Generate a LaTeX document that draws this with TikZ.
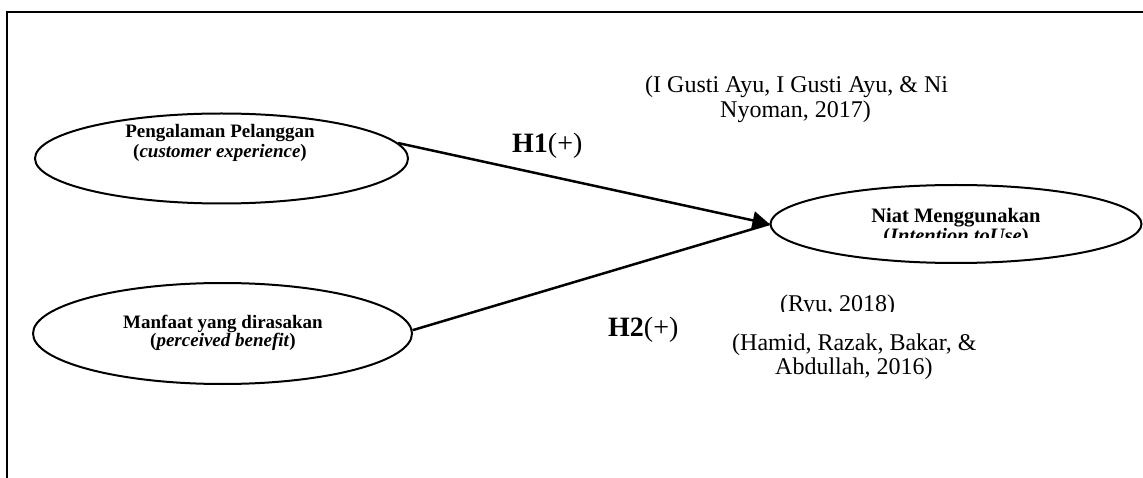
\documentclass[tikz,border=0pt]{standalone}
\usepackage{fontspec}
\setmainfont{Liberation Serif}
\usetikzlibrary{shapes.geometric,arrows.meta}
\tikzset{
  construct/.style={ellipse,draw=black,line width=2pt,inner sep=0pt},
  txt/.style={inner sep=0pt,anchor=base west},
  ctxt/.style={inner sep=0pt,anchor=base},
  cite/.style={txt,font=\fontsize{24}{27}\selectfont},
  hyp/.style={txt,font=\fontsize{28}{32}\selectfont},
  vname/.style={ctxt,font=\fontsize{19}{22}\selectfont\bfseries},
  link/.style={line width=2.5pt},
}
\begin{document}
\begin{tikzpicture}[x=1pt,y=-1pt]
  \useasboundingbox (0,0) rectangle (1143,478);
  % page frame
  \coordinate (fl) at (7,478);
  \coordinate (fc) at (7,12);
  \coordinate (fr) at (1143,12);
  \draw[line width=2pt] (fl) -- (fc) -- (fr);

  % constructs
  \node[construct,minimum width=373pt,minimum height=90pt] (pp) at (221.5,158.5) {};
  \node[construct,minimum width=379pt,minimum height=101pt] (mf) at (222.5,333.5) {};
  \node[construct,minimum width=371pt,minimum height=78pt] (ni) at (956,224) {};

  \node[vname] (pp1) at (220,138) {Pengalaman Pelanggan};
  \node[vname] (pp2) at (220,158) {(\textit{customer experience})};
  \node[vname] (mf1) at (223,328) {Manfaat yang dirasakan};
  \node[vname] (mf2) at (223,346) {(\textit{perceived benefit})};
  \node[vname,font=\fontsize{20.5}{24}\selectfont\bfseries] (ni1) at (956,223) {Niat Menggunakan};
  \begin{scope}
    \clip (850,200) rectangle (1060,238);
    \node[vname,font=\fontsize{20.5}{24}\selectfont\bfseries] (ni2) at (956,243) {(\textit{Intention toUse})};
  \end{scope}

  % paths
  \draw[link,-{Triangle[length=17pt,width=18pt]}] (pp.5) -- (ni.west);
  \draw[link] (mf.1) -- (ni.west);

  % hypothesis labels
  \node[hyp] (h1) at (512,153) {\textbf{H1}(+)};
  \node[hyp] (h2) at (608,336) {\textbf{H2}(+)};

  % sources
  \node[cite] (c1a) at (645,93) {(I Gusti Ayu, I Gusti Ayu, \& Ni};
  \node[cite] (c1b) at (720,118) {Nyoman, 2017)};
  \begin{scope}
    \clip (760,280) rectangle (910,312);
    \node[cite] (c2) at (780,312) {(Ryu, 2018)};
  \end{scope}
  \node[cite] (c3a) at (732,350) {(Hamid, Razak, Bakar, \&};
  \node[cite] (c3b) at (775,374) {Abdullah, 2016)};
\end{tikzpicture}
\end{document}
